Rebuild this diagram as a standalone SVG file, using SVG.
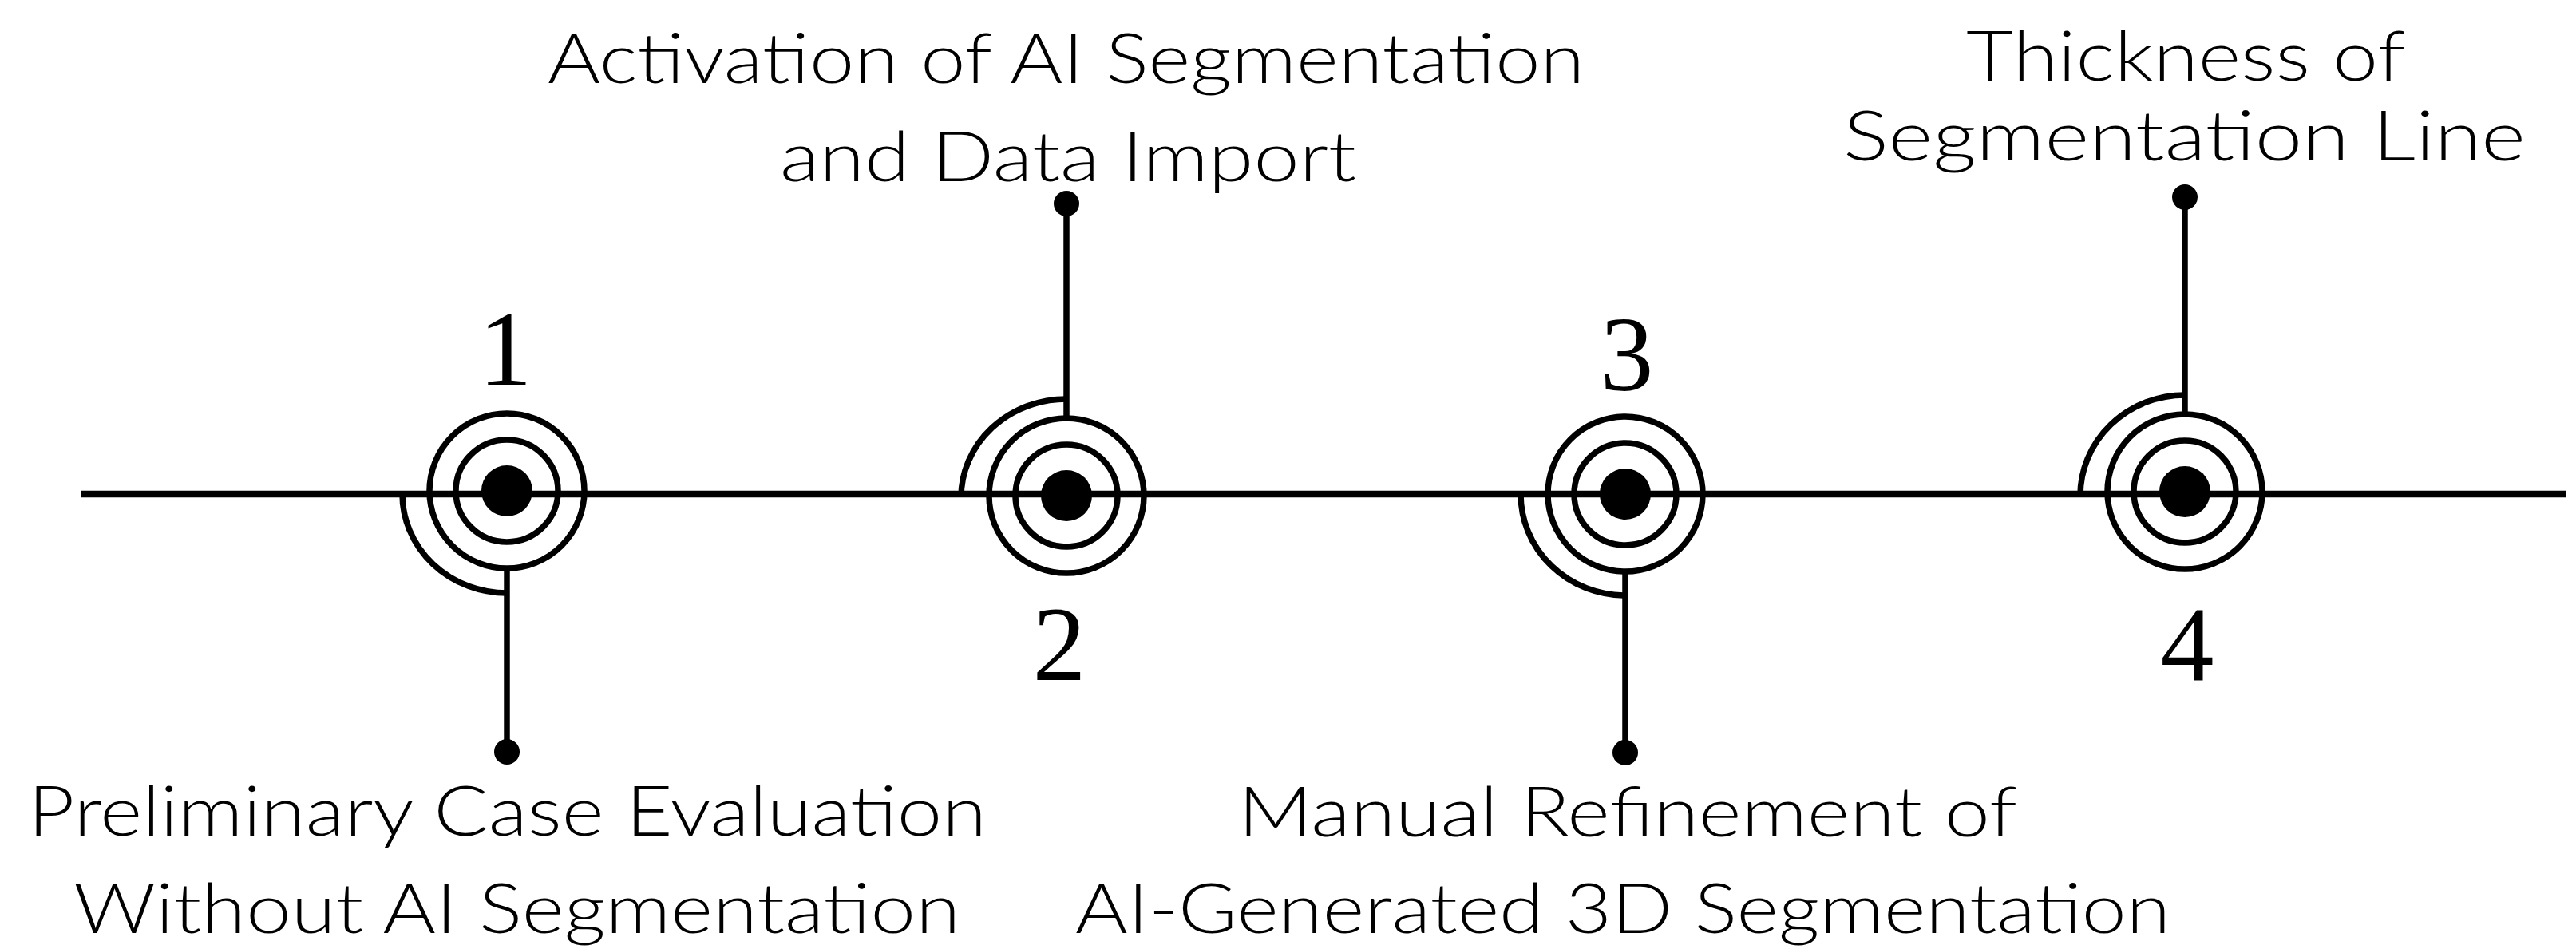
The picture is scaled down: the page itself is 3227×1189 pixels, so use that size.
<svg xmlns="http://www.w3.org/2000/svg" width="3227" height="1189" viewBox="0 0 3227 1189">
  <style>
    .ln { stroke: #000; stroke-width: 7.5; fill: none; }
    .axis { stroke: #000; stroke-width: 8.3; fill: none; }
    .dot { fill: #000; }
    .lbl { font-family: Lato, "Open Sans", "Liberation Sans", sans-serif; font-weight: 300; font-size: 86px; fill: #000; }
    .num { font-family: "Liberation Serif", "DejaVu Serif", serif; font-size: 134px; fill: #000; text-anchor: middle; }
  </style>
  <rect width="3227" height="1189" fill="#fff"/>

  <!-- timeline axis, stems and end pins -->
  <g id="connectors">
    <path class="axis" d="M102,619 H3215"/>
    <path class="ln" d="M635,711 V942"/>
    <circle class="dot" cx="635" cy="942" r="16"/>
    <path class="ln" d="M1336,525 V255"/>
    <circle class="dot" cx="1336" cy="255" r="16"/>
    <path class="ln" d="M2036,715 V943"/>
    <circle class="dot" cx="2036" cy="943" r="16"/>
    <path class="ln" d="M2737,519 V247"/>
    <circle class="dot" cx="2737" cy="247" r="16"/>
  </g>

  <!-- step 1 -->
  <g id="node1">
    <circle class="ln" cx="635" cy="615" r="97"/>
    <circle class="ln" cx="635" cy="615" r="64"/>
    <circle class="dot" cx="635" cy="615" r="32"/>
    <path class="ln" d="M504,619 A131,124 0 0 0 635,743"/>
    <text class="num" x="633" y="482">1</text>
    <text class="lbl" x="35" y="1047" textLength="1201" lengthAdjust="spacingAndGlyphs">Preliminary Case Evaluation</text>
    <text class="lbl" x="92" y="1169" textLength="1111" lengthAdjust="spacingAndGlyphs">Without AI Segmentation</text>
  </g>

  <!-- step 2 -->
  <g id="node2">
    <circle class="ln" cx="1336" cy="621" r="97"/>
    <circle class="ln" cx="1336" cy="621" r="64"/>
    <circle class="dot" cx="1336" cy="621" r="32"/>
    <path class="ln" d="M1204,623 A132,123 0 0 1 1336,500"/>
    <text class="num" x="1327" y="852">2</text>
    <text class="lbl" x="686" y="104" textLength="1299" lengthAdjust="spacingAndGlyphs">Activation of AI Segmentation</text>
    <text class="lbl" x="977" y="227" textLength="722" lengthAdjust="spacingAndGlyphs">and Data Import</text>
  </g>

  <!-- step 3 -->
  <g id="node3">
    <circle class="ln" cx="2036" cy="619" r="97"/>
    <circle class="ln" cx="2036" cy="619" r="64"/>
    <circle class="dot" cx="2036" cy="619" r="32"/>
    <path class="ln" d="M1905,619 A131,127 0 0 0 2036,746"/>
    <text class="num" x="2038" y="489">3</text>
    <text class="lbl" x="1551" y="1048" textLength="976" lengthAdjust="spacingAndGlyphs">Manual Refinement of</text>
    <text class="lbl" x="1347" y="1169" textLength="1372" lengthAdjust="spacingAndGlyphs">AI-Generated 3D Segmentation</text>
  </g>

  <!-- step 4 -->
  <g id="node4">
    <circle class="ln" cx="2737" cy="616" r="97"/>
    <circle class="ln" cx="2737" cy="616" r="64"/>
    <circle class="dot" cx="2737" cy="616" r="32"/>
    <path class="ln" d="M2606,621 A131,126 0 0 1 2737,495"/>
    <text class="num" x="2740" y="852">4</text>
    <text class="lbl" x="2463" y="101" textLength="550" lengthAdjust="spacingAndGlyphs">Thickness of</text>
    <text class="lbl" x="2309" y="201" textLength="855" lengthAdjust="spacingAndGlyphs">Segmentation Line</text>
  </g>
</svg>
